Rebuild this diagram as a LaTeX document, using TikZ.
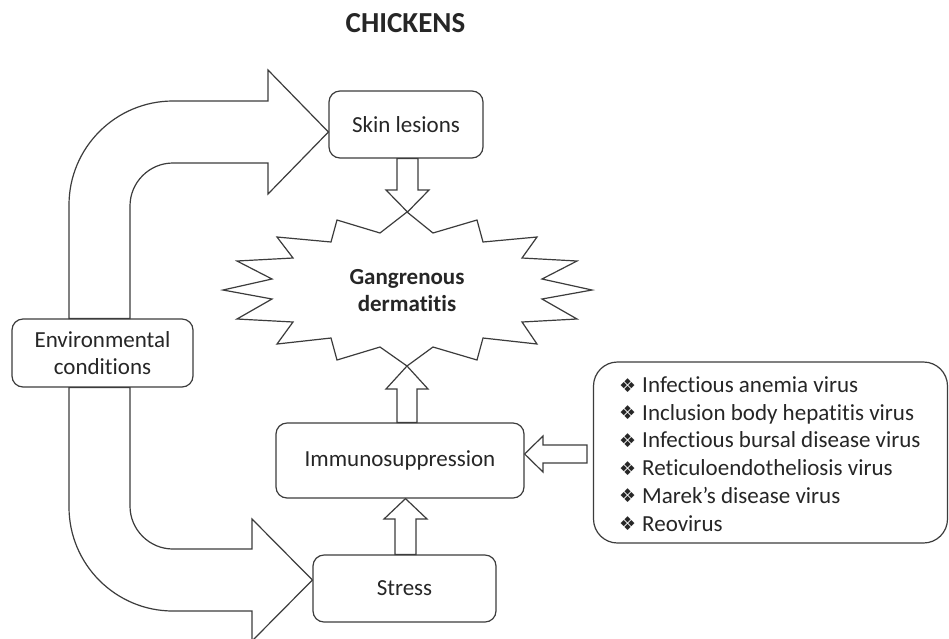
\documentclass[tikz,border=0pt]{standalone}
\usepackage{fontspec}
\setmainfont{Carlito}[Ligatures=NoCommon]
\newfontfamily\symfont{DejaVu Sans}
\usetikzlibrary{calc}
\definecolor{ln}{HTML}{3C3C3C}
\definecolor{tx}{HTML}{262626}
\newcommand{\bul}{\raisebox{0.5pt}{\symfont\fontsize{19}{27.7}\selectfont\char"2756}\hspace{6pt}}
\begin{document}
\begin{tikzpicture}[x=1pt,y=-1pt,
  box/.style={draw=ln, line width=1.2pt, rounded corners=11pt, fill=white, text=tx, align=center, font=\fontsize{23}{27}\selectfont, inner sep=0pt},
  blk/.style={draw=ln, line width=1.2pt, fill=white, line join=miter},
  lbl/.style={text=tx, align=center, font=\fontsize{23}{27}\selectfont, inner sep=0pt}]
\useasboundingbox (0,0) rectangle (949,638);
\fill[white] (0,0) rectangle (949,638);

% title
\node[text=tx, font=\bfseries\fontsize{29}{30}\selectfont] (title) at (405.5,23) {CHICKENS};

% boxes
\node[box, minimum width=154, minimum height=67] (skin) at (406,124.5) {Skin lesions};
\node[box, minimum width=181, minimum height=68] (env) at (102.5,353) {Environmental\\conditions};
\node[box, minimum width=248, minimum height=75] (imm) at (400,460.5) {Immunosuppression};
\node[box, minimum width=183, minimum height=67] (stress) at (404.5,588.5) {Stress};
\node[box, rounded corners=24pt, minimum width=354, minimum height=181] (vir) at (770.5,452.5) {};
\node[lbl, align=left, anchor=west, font=\fontsize{23}{27.7}\selectfont] (virlist) at (619,454) {%
\bul Infectious anemia virus\\
\bul Inclusion body hepatitis virus\\
\bul Infectious bursal disease virus\\
\bul Reticuloendotheliosis virus\\
\bul Marek’s disease virus\\
\bul Reovirus};

% star
\draw[blk] (407,212) -- (433,233) -- (477,220) -- (483,242) -- (537,237) -- (522,258) -- (577,261) -- (542,279) -- (592,290) -- (542,299) -- (577,319) -- (522,322) -- (537,344) -- (483,338) -- (477,360) -- (433,347) -- (407,366) -- (380,347) -- (337,360) -- (331,338) -- (277,344) -- (293,322) -- (237,319) -- (272,299) -- (223,290) -- (272,279) -- (237,261) -- (293,258) -- (277,237) -- (331,242) -- (337,220) -- (380,233) -- cycle;
\node[lbl, font=\bfseries\fontsize{23}{27}\selectfont] (gd) at (407,291) {Gangrenous\\dermatitis};

% block arrows between nodes
\draw[blk] (397,0 |- skin.south) -- (397,190) -- (386,190) -- (407.5,212) -- (429,190) -- (418,190) -- (418,0 |- skin.south) -- cycle;
\draw[blk] (397,0 |- imm.north) -- (397,389) -- (386,389) -- (407,366) -- (428,389) -- (417,389) -- (417,0 |- imm.north) -- cycle;
\draw[blk] (395,0 |- stress.north) -- (395,519) -- (384,519) -- (405.5,0 |- imm.south) -- (427,519) -- (416,519) -- (416,0 |- stress.north) -- cycle;
\draw[blk] (587,445) -- (543,445) -- (543,436) -- (imm.east |- 0,454) -- (543,472) -- (543,463) -- (587,463) -- cycle;

% curved arrows from environmental conditions
\draw[blk] (69,0 |- env.north) -- (69,205) .. controls (69,147.6) and (115.6,101) .. (173,101) -- (268,101) -- (268,70) -- (skin.west |- 0,132) -- (268,194) -- (268,163) -- (173,163) .. controls (149.3,163) and (130,182.3) .. (130,206) -- (130,0 |- env.north) -- cycle;
\draw[blk] (69,0 |- env.south) -- (69,507) .. controls (69,564.4) and (115.6,611) .. (173,611) -- (252,611) -- (252,641) -- (stress.west |- 0,580) -- (252,519) -- (252,549) -- (173,549) .. controls (149.3,549) and (130,529.7) .. (130,506) -- (130,0 |- env.south) -- cycle;
\end{tikzpicture}
\end{document}
